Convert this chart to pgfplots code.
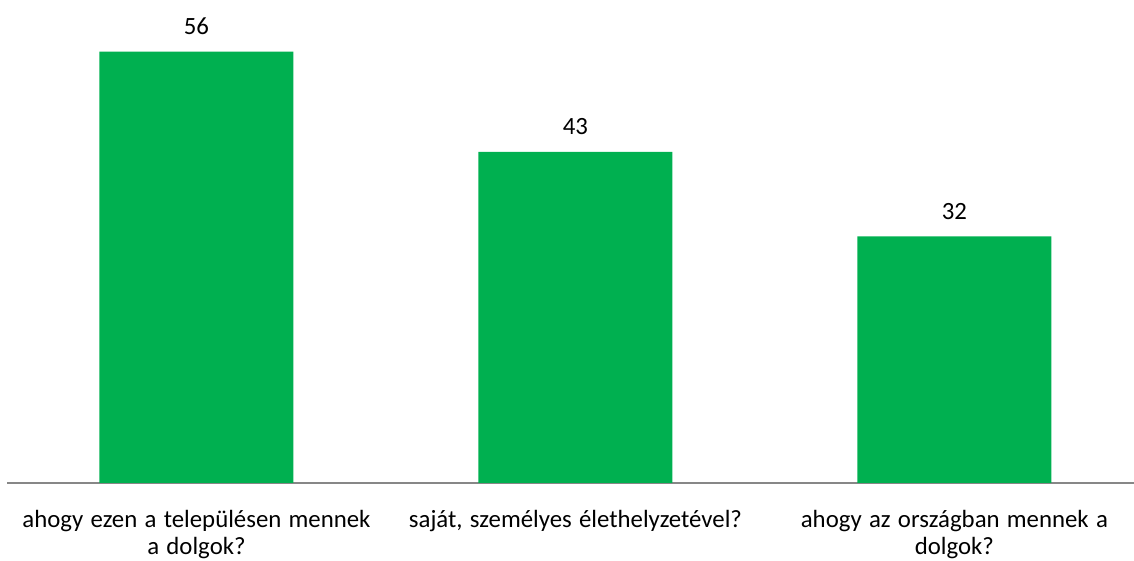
\documentclass[border=0pt]{standalone}
\usepackage{pgfplots}
\pgfplotsset{compat=1.18}
\usepackage{fontspec}
\setmainfont{Carlito}[WordSpace={1.3}]
\definecolor{bargreen}{HTML}{00B050}
\definecolor{axgray}{HTML}{878787}
\begin{document}
\fontsize{12.4pt}{13.5pt}\selectfont
\begin{tikzpicture}[x=1pt,y=1pt]
\begin{axis}[
  at={(0,0)}, anchor=south west,
  scale only axis,
  width=563.5pt, height=241.5pt,
  xmin=-0.5, xmax=2.474,
  ymin=0, ymax=62.7,
  axis x line=bottom,
  axis y line=none,
  x axis line style={-, draw=axgray, line width=1pt},
  xtick={0,1,2},
  xticklabels={{ahogy ezen a településen mennek\\a dolgok?},{saját, személyes élethelyzetével?},{ahogy az országban mennek a\\dolgok?}},
  xticklabel style={align=center, font=\fontsize{12.4pt}{13.5pt}\selectfont, text=black, yshift=-9.5pt},
  major tick length=0pt,
  /pgf/number format/assume math mode=true,
  ybar, bar width=97pt,
  nodes near coords,
  nodes near coords style={font=\fontsize{12.4pt}{13.5pt}\selectfont, text=black, yshift=4pt},
  point meta=y,
  clip=false,
]
\addplot[fill=bargreen, draw=none] coordinates {(0,56) (1,43) (2,32)};
\end{axis}
\pgfresetboundingbox
\useasboundingbox (-3.5pt,-39pt) rectangle (563.5pt,241.5pt);
\end{tikzpicture}
\end{document}
